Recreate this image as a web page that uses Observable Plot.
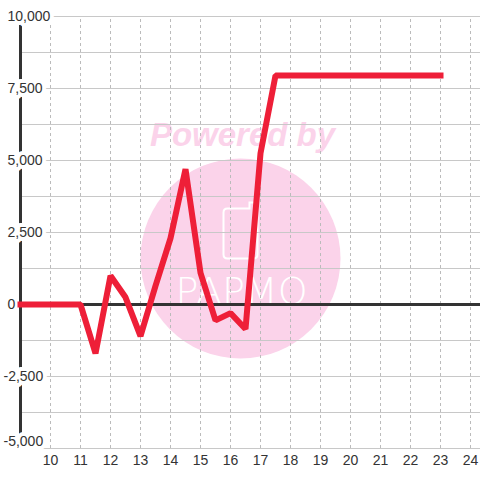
<!DOCTYPE html>
<html><head><meta charset="utf-8">
<script src="https://cdn.jsdelivr.net/npm/d3@7"></script>
<script src="https://cdn.jsdelivr.net/npm/@observablehq/plot@0.6"></script>
<style>body{margin:0;background:#fff}svg{display:block}</style>
</head><body><div id="chart"></div>
<script>
const xValues = [9, 9.5, 10, 10.5, 11, 11.5, 12, 12.5, 13, 13.5, 14, 14.5, 15, 15.5, 16, 16.5, 17, 17.5, 18, 18.5, 19, 19.5, 20, 20.5, 21, 21.5, 22, 22.5, 23];
const yValues = [0, 0, 0, 0, 0, -1700, 1000, 250, -1100, 650, 2300, 4700, 1100, -550, -300, -850, 5250, 7950, 7950, 7950, 7950, 7950, 7950, 7950, 7950, 7950, 7950, 7950, 7950];
const xTicks = [10, 11, 12, 13, 14, 15, 16, 17, 18, 19, 20, 21, 22, 23, 24];
const yTicks = [-5000, -2500, 0, 2500, 5000, 7500, 10000];
const yGrid = [-5000, -3750, -2500, -1250, 1250, 2500, 3750, 5000, 6250, 7500, 8750, 10000];

const data = xValues.map((x, i) => ({x, y: yValues[i]}));
const fmt = d => d3.format(",")(d).replace("−", "-");
const pink = "#fbd3ea";
const yMin = d3.min(yTicks);

const iconSymbol = {
  draw(ctx) {
    ctx.moveTo(-13, -24);
    ctx.lineTo(9, -24);
    ctx.lineTo(9, -30);
    ctx.lineTo(13, -30);
    ctx.quadraticCurveTo(17, -30, 17, -26);
    ctx.lineTo(17, 22);
    ctx.quadraticCurveTo(17, 26, 13, 26);
    ctx.lineTo(-13, 26);
    ctx.quadraticCurveTo(-17, 26, -17, 22);
    ctx.lineTo(-17, -20);
    ctx.quadraticCurveTo(-17, -24, -13, -24);
    ctx.closePath();
  }
};

const labelStyle = {fill: "#333", stroke: "#fff", strokeWidth: 8, fontSize: 14, textAnchor: "start"};

const plot = Plot.plot({
  width: 480,
  height: 480,
  marginLeft: 20,
  marginRight: 0,
  marginTop: 16,
  marginBottom: 32,
  style: {background: "#fff", fontFamily: "'Liberation Sans', Arial, sans-serif"},
  x: {domain: [9, 24.333], axis: null, label: null},
  y: {domain: [-5000, 10000], axis: null, label: null},
  marks: [
    // watermark
    Plot.dot([0], {frameAnchor: "top-left", dx: 220, dy: 242, r: 100, fill: pink, stroke: null}),
    Plot.text(["Powered by"], {frameAnchor: "top-left", dx: 222, dy: 106, fill: pink, fontSize: 33, fontWeight: "bold", fontStyle: "italic", textAnchor: "middle"}),
    Plot.dot([0], {frameAnchor: "top-left", dx: 220, dy: 216, symbol: iconSymbol, r: 10, fill: "none", stroke: "#fff", strokeWidth: 2}),
    Plot.text(["PAPMO"], {frameAnchor: "top-left", dx: 221, dy: 261, fill: "#fff", fontSize: 38, fontWeight: 200, fontFamily: "DejaVu Sans", textAnchor: "middle", style: {letterSpacing: "4px"}}),
    // grid
    Plot.ruleY(yGrid, {stroke: "#c8c8c8", strokeWidth: 1}),
    Plot.ruleX(xTicks, {y1: -5000, y2: 10000, stroke: "#bbb", strokeWidth: 1, strokeDasharray: "3,3"}),
    Plot.ruleY([0], {stroke: "#333", strokeWidth: 3}),
    Plot.ruleX([9], {y1: -5000, y2: 10000, stroke: "#333", strokeWidth: 3}),
    // y labels with white background
    Plot.text(yTicks.filter(d => d >= 0), {x: () => 9, y: d => d, text: fmt, dx: -13, ...labelStyle}),
    Plot.text(yTicks.filter(d => d < 0 && d > yMin), {x: () => 9, y: d => d, text: fmt, dx: -17, ...labelStyle}),
    Plot.text([yMin], {x: () => 9, y: d => d, text: fmt, dx: -17, dy: -7, ...labelStyle}),
    // x labels
    Plot.axisX(xTicks, {tickSize: 0, tickPadding: 7, fontSize: 14, fill: "#333", tickFormat: d => String(d), label: null}),
    // series
    Plot.line(data, {x: "x", y: "y", stroke: "#ee1f38", strokeWidth: 6, strokeLinecap: "square", strokeLinejoin: "miter"})
  ]
});
document.getElementById("chart").appendChild(plot);
</script>
</body></html>
